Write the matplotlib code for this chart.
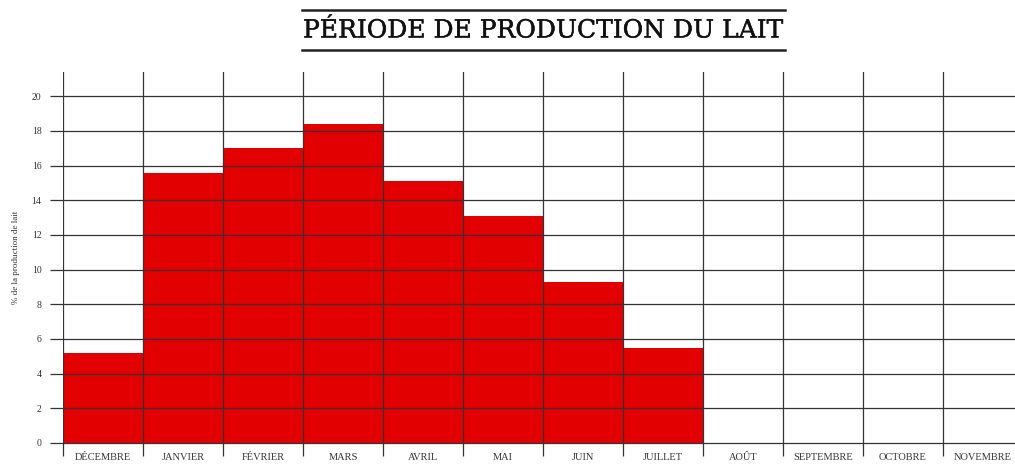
import matplotlib
matplotlib.use("Agg")
import matplotlib.pyplot as plt
import matplotlib.patheffects as pe
from matplotlib.lines import Line2D
import numpy as np

months = ["DÉCEMBRE", "JANVIER", "FÉVRIER", "MARS", "AVRIL", "MAI",
          "JUIN", "JUILLET", "AOÛT", "SEPTEMBRE", "OCTOBRE", "NOVEMBRE"]
values = [5.2, 15.6, 17.0, 18.4, 15.1, 13.1, 9.3, 5.5, 0, 0, 0, 0]
yticks = [0, 2, 4, 6, 8, 10, 12, 14, 16, 18, 20]

red = "#e30000"
grid = "#333333"

fig = plt.figure(figsize=(10.15, 4.68), dpi=100)
ax = fig.add_axes([63/1015, 25/468, 960/1015, 371/468])

x = np.arange(len(months))
ax.bar(x, values, width=1.0, align="center", color=red, zorder=1, linewidth=0)

ax.set_xlim(-0.5, len(months) - 0.5)
ax.set_ylim(0, 21.4)

# grid over the bars
for y in yticks[1:]:
    ax.axhline(y, color=grid, lw=0.9, zorder=3)
for b in np.arange(-0.5, len(months), 1.0):
    ax.axvline(b, color=grid, lw=0.9, zorder=3)

for s in ["top", "right", "left"]:
    ax.spines[s].set_visible(False)
ax.spines["bottom"].set_color(grid)
ax.spines["bottom"].set_linewidth(0.9)
ax.spines["bottom"].set_zorder(3)

ax.set_yticks(yticks)
ax.set_yticklabels([str(v) for v in yticks], family="Liberation Serif", fontsize=7, color="#333333")
ax.tick_params(axis="y", length=9.5, width=0.9, color=grid, pad=6)

ax.set_xticks(x)
ax.set_xticklabels(months, family="Liberation Serif", fontsize=7.5, color="#333333")
ax.set_xticks(np.arange(-0.5, len(months), 1.0), minor=True)
ax.tick_params(axis="x", which="major", length=0, pad=7)
ax.tick_params(axis="x", which="minor", length=9, width=0.9, color=grid)

ax.set_ylabel("% de la production de lait", family="Liberation Serif", fontsize=6.5, color="#333333", labelpad=8)

t = fig.text(543/1015, 1 - 31/468, "PÉRIODE DE PRODUCTION DU LAIT", family="DejaVu Serif",
             fontsize=18, ha="center", va="center", color="#111111")
t.set_path_effects([pe.withStroke(linewidth=0.3, foreground="#111111")])
fig.add_artist(Line2D([302/1015, 785/1015], [1 - 10/468, 1 - 10/468], color="#222222", lw=1.8))
fig.add_artist(Line2D([302/1015, 785/1015], [1 - 50/468, 1 - 50/468], color="#222222", lw=1.8))

fig.savefig("out.png", dpi=100)
